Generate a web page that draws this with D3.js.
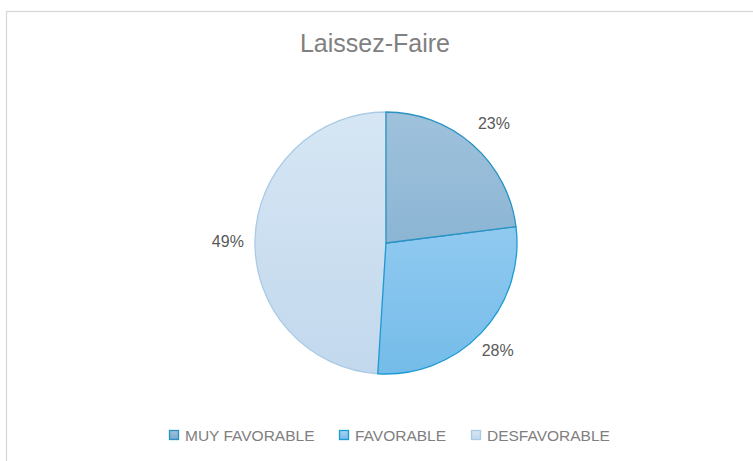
<!DOCTYPE html>
<html>
<head>
<meta charset="utf-8">
<script src="https://cdn.jsdelivr.net/npm/d3@7"></script>
<style>
  html, body { margin: 0; padding: 0; background: #ffffff; }
  svg { display: block; }
</style>
</head>
<body>
<svg id="chart" width="753" height="461"></svg>
<script>
const title = "Laissez-Faire";
const categories = ["MUY FAVORABLE", "FAVORABLE", "DESFAVORABLE"];
const values = [23, 28, 49];
const labels = ["23%", "28%", "49%"];

const gradTop = ["#9fc2dc", "#a6d4f6", "#d6e6f4"];
const gradBottom = ["#78a8cc", "#74bce9", "#c2d8ed"];
const strokes = ["#2b92c2", "#1f9ad2", "#a9cbe5"];

const W = 753, H = 461;
const svg = d3.select("#chart");
const font = "'Liberation Sans', Arial, sans-serif";

// outer border
svg.append("rect").attr("x", 6.5).attr("y", 11.5).attr("width", 760).attr("height", 470)
  .attr("fill", "#fff").attr("stroke", "#d9d9d9").attr("stroke-width", 1.3);

svg.append("text").attr("x", 375).attr("y", 52).attr("text-anchor", "middle")
  .attr("font-family", font).attr("font-size", 25).attr("fill", "#808080").text(title);

const cx = 386, cy = 243, R = 131;
const defs = svg.append("defs");
categories.forEach((c, i) => {
  const g = defs.append("linearGradient").attr("id", "g" + i)
    .attr("gradientUnits", "userSpaceOnUse")
    .attr("x1", 0).attr("y1", -R).attr("x2", 0).attr("y2", R);
  g.append("stop").attr("offset", 0).attr("stop-color", gradTop[i]);
  g.append("stop").attr("offset", 1).attr("stop-color", gradBottom[i]);
  const lg = defs.append("linearGradient").attr("id", "lg" + i)
    .attr("x1", 0).attr("y1", 0).attr("x2", 0).attr("y2", 1);
  lg.append("stop").attr("offset", 0).attr("stop-color", gradTop[i]);
  lg.append("stop").attr("offset", 1).attr("stop-color", gradBottom[i]);
});

const pie = d3.pie().sort(null).value(d => d)(values);
const arc = d3.arc().innerRadius(0).outerRadius(R);

const g = svg.append("g").attr("transform", `translate(${cx},${cy})`);
const order = [2, 1, 0];
order.forEach(i => {
  g.append("path").attr("d", arc(pie[i]))
    .attr("fill", `url(#g${i})`).attr("stroke", strokes[i]).attr("stroke-width", 1.3)
    .attr("stroke-linejoin", "round");
});

pie.forEach((p, i) => {
  const mid = (p.startAngle + p.endAngle) / 2;
  const lr = 158 + 7 * Math.cos(mid);
  const la = d3.arc().innerRadius(lr).outerRadius(lr);
  const [x, y] = la.centroid(p);
  g.append("text").attr("x", x).attr("y", y + 3).attr("dy", "0.35em")
    .attr("text-anchor", "middle").attr("font-family", font).attr("font-size", 16)
    .attr("fill", "#595959").text(labels[i]);
});

// legend
const legendX = [169, 339, 471];
categories.forEach((c, i) => {
  svg.append("rect").attr("x", legendX[i] + 0.5).attr("y", 430.5).attr("width", 9).attr("height", 9)
    .attr("fill", `url(#lg${i})`).attr("stroke", strokes[i]).attr("stroke-width", 1.3);
  svg.append("text").attr("x", legendX[i] + 16).attr("y", 441)
    .attr("font-family", font).attr("font-size", 15.5).attr("fill", "#808080").text(c);
});
</script>
</body>
</html>
